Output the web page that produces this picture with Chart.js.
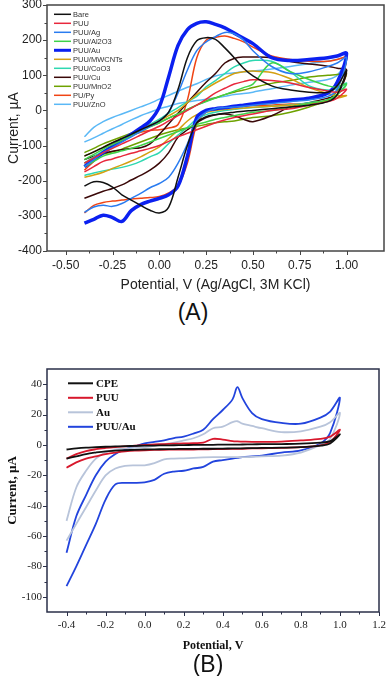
<!DOCTYPE html>
<html>
<head>
<meta charset="utf-8">
<script src="https://cdn.jsdelivr.net/npm/chart.js@4.4.1/dist/chart.umd.min.js"></script>
<style>
  body { margin: 0; background: #fff; width: 386px; height: 676px; position: relative; overflow: hidden; }
  canvas { position: absolute; left: 0; }
  #cvA { top: 0; }
  #cvB { top: 348px; }
  .tag { position: absolute; font-family: "Liberation Sans", Arial, sans-serif; font-size: 23px; line-height: 1;
         color: #111; transform: translateX(-50%); white-space: nowrap; }
</style>
</head>
<body>
<canvas id="cvA" width="386" height="296"></canvas>
<canvas id="cvB" width="386" height="308"></canvas>
<div class="tag" style="left:193px;top:301px">(A)</div>
<div class="tag" style="left:208px;top:653px">(B)</div>
<script>
// ---- panel A: potentials (V) and currents (uA), forward (up) and reverse (down) scans
const potA = [-0.4,-0.35,-0.3,-0.25,-0.2,-0.15,-0.1,-0.05,0,0.05,0.1,0.15,0.2,0.25,0.3,0.35,0.4,0.45,0.5,0.6,0.7,0.8,0.9,0.95,1.0];

const bareUp   = [-130,-118,-105,-92,-80,-68,-55,-43,-30,-5,60,150,198,207,202,178,150,120,98,70,58,52,52,70,115];
const bareDown = [-215,-203,-205,-218,-240,-255,-270,-284,-292,-275,-190,-100,-35,-18,-12,-8,-5,-2,0,5,10,15,25,45,115];
const puuUp    = [-150,-135,-120,-108,-95,-83,-70,-57,-45,-30,-15,0,15,32,50,63,75,82,87,85,78,65,55,52,60];
const puuDown  = [-175,-160,-145,-138,-130,-122,-115,-108,-100,-88,-75,-65,-55,-45,-35,-27,-20,-15,-10,0,5,15,25,35,60];
const agUp     = [-160,-140,-120,-105,-90,-75,-60,-45,-30,-5,50,115,170,195,210,222,218,200,170,125,105,110,125,135,150];
const agDown   = [-290,-275,-270,-273,-265,-250,-236,-220,-208,-190,-150,-95,-30,-5,5,8,10,12,15,20,25,30,40,60,150];
const alUp     = [-140,-125,-110,-97,-85,-72,-60,-47,-35,-22,-10,2,15,25,35,45,55,65,75,135,110,88,70,66,75];
const alDown   = [-160,-145,-130,-122,-115,-108,-100,-90,-80,-70,-60,-50,-40,-33,-25,-20,-15,-10,-5,0,10,20,30,45,75];
const auUp     = [-160,-140,-120,-102,-85,-68,-50,-30,10,96,185,230,248,252,245,235,220,205,190,150,142,145,150,155,162];
const auDown   = [-321,-310,-298,-305,-316,-285,-268,-258,-250,-240,-215,-130,-20,0,5,8,12,15,18,25,30,35,50,80,162];
const mwUp     = [-130,-118,-105,-92,-80,-68,-55,-43,-30,-15,0,22,45,62,78,92,105,110,112,108,90,65,48,42,42];
const mwDown   = [-190,-184,-176,-165,-155,-144,-132,-118,-104,-80,-56,-30,-12,-5,0,3,5,7,9,12,15,20,28,35,42];
const coUp     = [-150,-132,-115,-100,-85,-70,-55,-40,-25,-8,8,25,40,67,85,105,124,135,142,140,110,70,58,62,78];
const coDown   = [-185,-178,-172,-167,-162,-155,-145,-132,-120,-94,-70,-48,-25,-12,-5,0,3,6,8,12,16,22,30,45,78];
const cuUp     = [-140,-130,-122,-116,-112,-108,-106,-95,-68,-38,-8,22,52,80,105,135,148,152,152,150,139,132,126,120,115];
const cuDown   = [-250,-240,-230,-222,-212,-198,-185,-170,-150,-120,-76,-55,-35,-20,-12,-10,-15,-25,-32,-15,10,22,35,45,115];
const mnUp     = [-120,-108,-95,-85,-75,-65,-55,-45,-35,-22,-10,3,15,27,36,45,52,58,65,77,85,95,100,102,105];
const mnDown   = [-150,-138,-125,-118,-110,-100,-90,-80,-70,-62,-55,-50,-45,-40,-35,-32,-30,-25,-20,-15,-5,10,30,55,105];
const pyUp     = [-170,-145,-120,-102,-85,-72,-62,-57,-55,-50,-40,30,150,200,208,212,205,195,180,155,145,140,140,145,150];
const pyDown   = [-292,-270,-262,-258,-255,-252,-250,-248,-245,-235,-215,-150,-40,-5,5,8,10,12,14,15,18,20,30,60,150];
const znUp     = [-75,-48,-32,-20,-10,0,10,20,32,43,55,66,76,88,98,104,107,110,112,118,125,133,140,145,150];
const znDown   = [-90,-78,-65,-52,-40,-27,-15,-5,5,12,20,24,28,32,36,40,45,48,52,62,72,80,88,100,150];

const labelsA = ["Bare","PUU","PUU/Ag","PUU/Al2O3","PUU/Au","PUU/MWCNTs","PUU/CoO3","PUU/Cu","PUU/MnO2","PU/Py","PUU/ZnO"];
const xTicksA = [-0.5,-0.25,0,0.25,0.5,0.75,1.0];
const yTicksA = [-400,-300,-200,-100,0,100,200,300];

// ---- panel B
const potB = [-0.4,-0.35,-0.3,-0.25,-0.2,-0.15,-0.1,-0.05,0,0.05,0.1,0.15,0.2,0.25,0.3,0.35,0.4,0.45,0.475,0.5,0.55,0.6,0.7,0.8,0.9,0.95,1.0];
const cpeUp     = [-3,-2.3,-1.8,-1.5,-1.2,-1,-0.8,-0.6,-0.5,-0.4,-0.3,-0.2,-0.1,0,0,0.1,0.2,0.2,0.2,0.3,0.4,0.5,0.6,0.8,1.5,2.5,7];
const cpeDown   = [-9,-7.5,-6,-5,-4.2,-3.8,-3.5,-3.2,-3,-2.9,-2.8,-2.7,-2.6,-2.6,-2.5,-2.5,-2.4,-2.3,-2.3,-2.2,-2.1,-2,-1.8,-1.5,-0.5,1,7];
const puuBUp    = [-9,-6,-4,-2.8,-2,-1.4,-1,-0.5,0,0.3,0.6,0.8,1,1.2,1.5,4,3.5,2.5,2.3,2.2,2,2,2.2,3,4,5.5,10];
const puuBDown  = [-15,-11.5,-9,-7.5,-6,-5,-4.3,-3.8,-3.5,-3.3,-3.2,-3.1,-3,-3,-2.9,-2.8,-2.7,-2.6,-2.6,-2.5,-2.3,-2.2,-2,-1.5,-0.3,2,10];
const auBUp     = [-50,-28,-17,-9,-5,-3,-2.3,-2,-1.5,-0.5,0.5,1.5,3,4.4,7,11,12,15,15.6,14,12.5,11,8.5,9,12,15,21];
const auBDown   = [-63,-52,-41,-30,-20,-15.5,-13.8,-13.4,-13.4,-12,-9.5,-9,-8.8,-8.5,-8.2,-8,-8,-8,-8,-8,-7.8,-7.5,-7,-5,0,4,21];
const puuAuUp   = [-71,-47,-33,-20,-11,-6,-3,-1,1,2,3,4.5,5.5,7.5,10,17,23,30,38,31,21,17,14.5,14,18,22,31];
const puuAuDown = [-93,-80,-66,-52,-36,-26,-25,-25,-24.6,-23,-19,-17.5,-17,-15.5,-14.5,-11,-10,-9,-8.5,-8,-7.5,-7,-5,-3.5,1,8,31];

const labelsB = ["CPE","PUU","Au","PUU/Au"];
const xTicksB = [-0.4,-0.2,0,0.2,0.4,0.6,0.8,1.0,1.2];
const yTicksB = [-100,-80,-60,-40,-20,0,20,40];

function loop(pot, up, down) {
  const a = pot.map((v, i) => ({ x: v, y: up[i] }));
  const b = pot.map((v, i) => ({ x: v, y: down[i] })).reverse();
  return a.concat(b.slice(1));
}

// box around the plot plus major/minor tick marks pointing outward
const frame = {
  id: "frame",
  afterDraw(chart, args, o) {
    const { ctx, chartArea: { left, right, top, bottom }, scales: { x, y } } = chart;
    ctx.save();
    ctx.strokeStyle = o.color;
    ctx.lineWidth = o.width;
    ctx.strokeRect(left, top, right - left, bottom - top);
    ctx.lineWidth = 1;
    const tick = (px, len, vertical) => {
      ctx.beginPath();
      if (vertical) { ctx.moveTo(px, bottom); ctx.lineTo(px, bottom + len); }
      else { ctx.moveTo(left, px); ctx.lineTo(left - len, px); }
      ctx.stroke();
    };
    o.xs.forEach((v, i) => {
      tick(Math.round(x.getPixelForValue(v)) + 0.5, 4, true);
      if (i < o.xs.length - 1) tick(Math.round(x.getPixelForValue((v + o.xs[i + 1]) / 2)) + 0.5, 2.5, true);
    });
    o.ys.forEach((v, i) => {
      tick(Math.round(y.getPixelForValue(v)) + 0.5, 4, false);
      if (i < o.ys.length - 1) tick(Math.round(y.getPixelForValue((v + o.ys[i + 1]) / 2)) + 0.5, 2.5, false);
    });
    ctx.restore();
  },
};

// legend drawn inside the plot area
const inLegend = {
  id: "inLegend",
  afterDatasetsDraw(chart, args, o) {
    const ctx = chart.ctx;
    ctx.save();
    ctx.font = o.font;
    ctx.textBaseline = "middle";
    chart.data.datasets.forEach((ds, i) => {
      const yy = o.y0 + i * o.dy;
      ctx.strokeStyle = ds.borderColor;
      ctx.lineWidth = ds.borderWidth > 2 ? 3 : o.lw;
      ctx.beginPath();
      ctx.moveTo(o.x0, yy);
      ctx.lineTo(o.x1, yy);
      ctx.stroke();
      ctx.fillStyle = o.color;
      ctx.fillText(ds.label, o.tx, yy + 0.5);
    });
    ctx.restore();
  },
};

const sans = "'Liberation Sans', Arial, sans-serif";
const serif = "'Liberation Serif', 'Times New Roman', serif";

const colorsA = ["#111111","#e8283c","#2a7cf0","#3ed24a","#0b20f0","#d4a012","#2ed8b0","#3a0808","#6ea200","#f04414","#5ab8f6"];
const seriesA = [
  [bareUp, bareDown], [puuUp, puuDown], [agUp, agDown], [alUp, alDown], [auUp, auDown],
  [mwUp, mwDown], [coUp, coDown], [cuUp, cuDown], [mnUp, mnDown], [pyUp, pyDown], [znUp, znDown],
];

const noGrid = { display: false, drawTicks: false, tickLength: 0 };

new Chart(document.getElementById("cvA"), {
  type: "scatter",
  data: {
    datasets: seriesA.map((s, i) => ({
      label: labelsA[i],
      data: loop(potA, s[0], s[1]),
      showLine: true,
      borderColor: colorsA[i],
      backgroundColor: colorsA[i],
      borderWidth: labelsA[i] === "PUU/Au" ? 3.5 : 1.5,
      pointRadius: 0,
      tension: 0.35,
      fill: false,
    })),
  },
  options: {
    responsive: false,
    animation: false,
    layout: { padding: { top: 5, right: 2, left: 0, bottom: 0 } },
    scales: {
      x: {
        type: "linear",
        min: -0.6,
        max: 1.2,
        afterBuildTicks: (s) => { s.ticks = xTicksA.map((v) => ({ value: v })); },
        afterFit: (s) => { s.height = 45; s.paddingLeft = 0; s.paddingRight = 0; },
        ticks: { callback: (v) => Number(v).toFixed(2), color: "#222", padding: 7, maxRotation: 0, autoSkip: false,
                 font: { family: sans, size: 12 } },
        grid: noGrid,
        border: { display: false },
        title: { display: true, text: "Potential, V (Ag/AgCl, 3M KCl)", color: "#222",
                 font: { family: sans, size: 14 }, padding: { top: 0, bottom: 2 } },
      },
      y: {
        type: "linear",
        min: -400,
        max: 300,
        afterBuildTicks: (s) => { s.ticks = yTicksA.map((v) => ({ value: v })); },
        afterFit: (s) => { s.width = 47; s.paddingTop = 0; s.paddingBottom = 0; },
        ticks: { callback: (v) => String(v), color: "#222", padding: 5, font: { family: sans, size: 12 } },
        grid: noGrid,
        border: { display: false },
        title: { display: true, text: "Current, µA", color: "#222",
                 font: { family: sans, size: 14 }, padding: { top: 6, bottom: 0 } },
      },
    },
    plugins: {
      legend: { display: false },
      tooltip: { enabled: false },
      frame: { color: "#444", width: 1.5, xs: xTicksA, ys: yTicksA },
      inLegend: { font: "7.5px " + sans, color: "#333", x0: 54, x1: 71, tx: 73, y0: 14.3, dy: 9, lw: 1.5 },
    },
  },
  plugins: [frame, inLegend],
});

const colorsB = ["#111111","#d8182c","#b8c4da","#2244dd"];
const seriesB = [[cpeUp, cpeDown], [puuBUp, puuBDown], [auBUp, auBDown], [puuAuUp, puuAuDown]];

new Chart(document.getElementById("cvB"), {
  type: "scatter",
  data: {
    datasets: seriesB.map((s, i) => ({
      label: labelsB[i],
      data: loop(potB, s[0], s[1]),
      showLine: true,
      borderColor: colorsB[i],
      backgroundColor: colorsB[i],
      borderWidth: 1.8,
      pointRadius: 0,
      tension: 0.35,
      fill: false,
    })),
  },
  options: {
    responsive: false,
    animation: false,
    layout: { padding: { top: 21, right: 7, left: 0, bottom: 0 } },
    scales: {
      x: {
        type: "linear",
        min: -0.5,
        max: 1.2,
        afterBuildTicks: (s) => { s.ticks = xTicksB.map((v) => ({ value: v })); },
        afterFit: (s) => { s.height = 44; s.paddingLeft = 0; s.paddingRight = 0; },
        ticks: { callback: (v) => Number(v).toFixed(1), color: "#222", padding: 7, maxRotation: 0, autoSkip: false,
                 font: { family: serif, size: 11 } },
        grid: noGrid,
        border: { display: false },
        title: { display: true, text: "Potential, V", color: "#111",
                 font: { family: serif, size: 12, weight: "bold" }, padding: { top: 0, bottom: 3 } },
      },
      y: {
        type: "linear",
        min: -110,
        max: 50,
        afterBuildTicks: (s) => { s.ticks = yTicksB.map((v) => ({ value: v })); },
        afterFit: (s) => { s.width = 47; },
        ticks: { callback: (v) => String(v), color: "#222", padding: 5, font: { family: serif, size: 11 } },
        grid: noGrid,
        border: { display: false },
        title: { display: true, text: "Current, µA", color: "#111",
                 font: { family: serif, size: 13, weight: "bold" }, padding: { top: 5, bottom: 0 } },
      },
    },
    plugins: {
      legend: { display: false },
      tooltip: { enabled: false },
      frame: { color: "#2a2f48", width: 1.5, xs: xTicksB, ys: yTicksB },
      inLegend: { font: "bold 11px " + serif, color: "#111", x0: 68, x1: 93, tx: 96, y0: 35.3, dy: 14.5, lw: 2 },
    },
  },
  plugins: [frame, inLegend],
});
</script>
</body>
</html>
